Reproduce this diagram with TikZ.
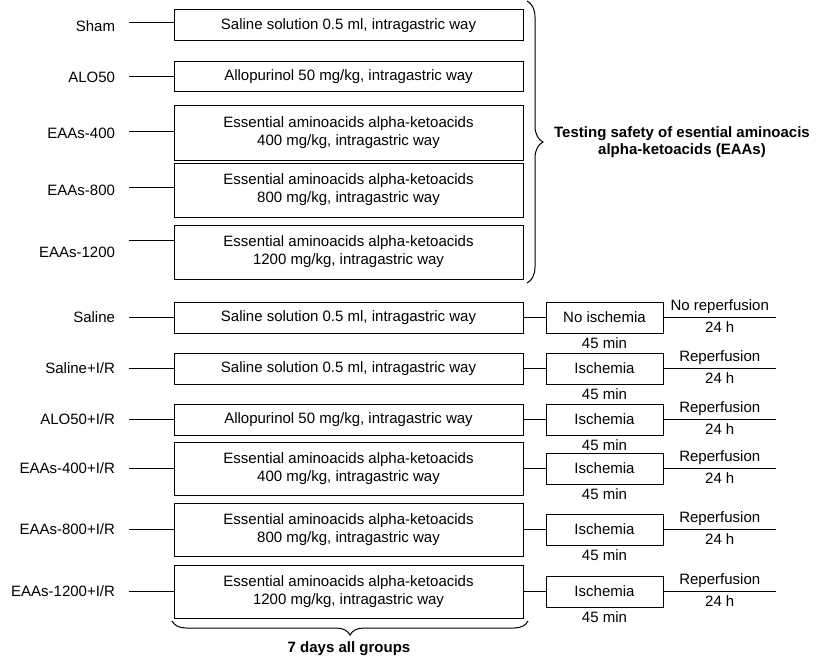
\documentclass[tikz,border=0pt]{standalone}
\usepackage{fontspec}
\setmainfont{Liberation Sans}
\usepackage{tikz}
\usetikzlibrary{positioning,decorations.pathreplacing}

\newcommand{\salinetxt}{Saline solution 0.5 ml, intragastric way}
\newcommand{\alotxt}{Allopurinol 50 mg/kg, intragastric way}
\newcommand{\eaatxt}[1]{Essential aminoacids alpha-ketoacids\\#1 mg/kg, intragastric way}

\begin{document}
\begin{tikzpicture}[x=1pt, y=-1pt, line width=1pt,
    font=\fontsize{15}{18}\selectfont,
    group/.style={anchor=east, inner xsep=0pt, outer xsep=14pt},
    treat/.style={rectangle, draw, align=center, minimum width=349pt, minimum height=31pt, inner sep=2pt},
    isch/.style={rectangle, draw, minimum width=117pt, minimum height=31pt, inner sep=2pt},
    note/.style={font=\fontsize{15}{17}\selectfont\bfseries, align=center}]
        \useasboundingbox (0,0) rectangle (821,658);

        % Safety groups (no ischemia)
        \foreach \i/\name/\txt/\y/\h/\ty/\ly in {1/Sham/{\salinetxt}/25.5/31/26/23, 2/ALO50/{\alotxt}/77/30/77/77, 3/EAAs-400/{\eaatxt{400}}/133/54/133/131, 4/EAAs-800/{\eaatxt{800}}/190/54/190/187, 5/EAAs-1200/{\eaatxt{1200}}/252/54/252/240} {
          \node[treat, minimum height=\h pt] (S\i) at (348.5,\y) {\txt};
          \node[group] (G\i) at (129,\ty) {\name};
          \draw (G\i.east |- 0,\ly) -- (S\i.west |- 0,\ly);
        }

        % Brace for the safety groups
        \coordinate (braceTop) at (527,1);
        \coordinate (braceBot) at (527,283);
        \draw[decorate, decoration={brace, amplitude=16pt}] (braceTop) -- (braceBot);
        \node[note] (safety) at (682,142) {Testing safety of esential aminoacis\\alpha-ketoacids (EAAs)};

        % Ischemia / reperfusion groups
        \foreach \i/\name/\txt/\y/\h/\isc/\rep in {1/Saline/{\salinetxt}/317.5/31/No ischemia/No reperfusion, 2/{Saline+I/R}/{\salinetxt}/368.5/31/Ischemia/Reperfusion, 3/{ALO50+I/R}/{\alotxt}/419.5/31/Ischemia/Reperfusion, 4/{EAAs-400+I/R}/{\eaatxt{400}}/468.5/53/Ischemia/Reperfusion, 5/{EAAs-800+I/R}/{\eaatxt{800}}/529.5/53/Ischemia/Reperfusion, 6/{EAAs-1200+I/R}/{\eaatxt{1200}}/591.5/53/Ischemia/Reperfusion} {
          \node[treat, minimum height=\h pt] (B\i) at (348.5,\y) {\txt};
          \node[group] (H\i) at (129,\y) {\name};
          \draw (H\i.east) -- (B\i.west);
          \node[isch, right=22pt of B\i] (I\i) {\isc};
          \draw (B\i.east) -- (I\i.west);
          \node[below=0pt of I\i] (M\i) {45 min};
          \coordinate (R\i) at (776,\y);
          \draw (I\i.east) -- node[above] (P\i) {\rep} node[below] (D\i) {24 h} (R\i);
        }

        % Brace for the treatment period
        \coordinate (daysRight) at (528,621);
        \coordinate (daysLeft) at (172,621);
        \draw[decorate, decoration={brace, amplitude=14pt}] (daysRight) -- (daysLeft);
        \node[note] (days) at (349,649) {7 days all groups};
    \end{tikzpicture}
\end{document}
